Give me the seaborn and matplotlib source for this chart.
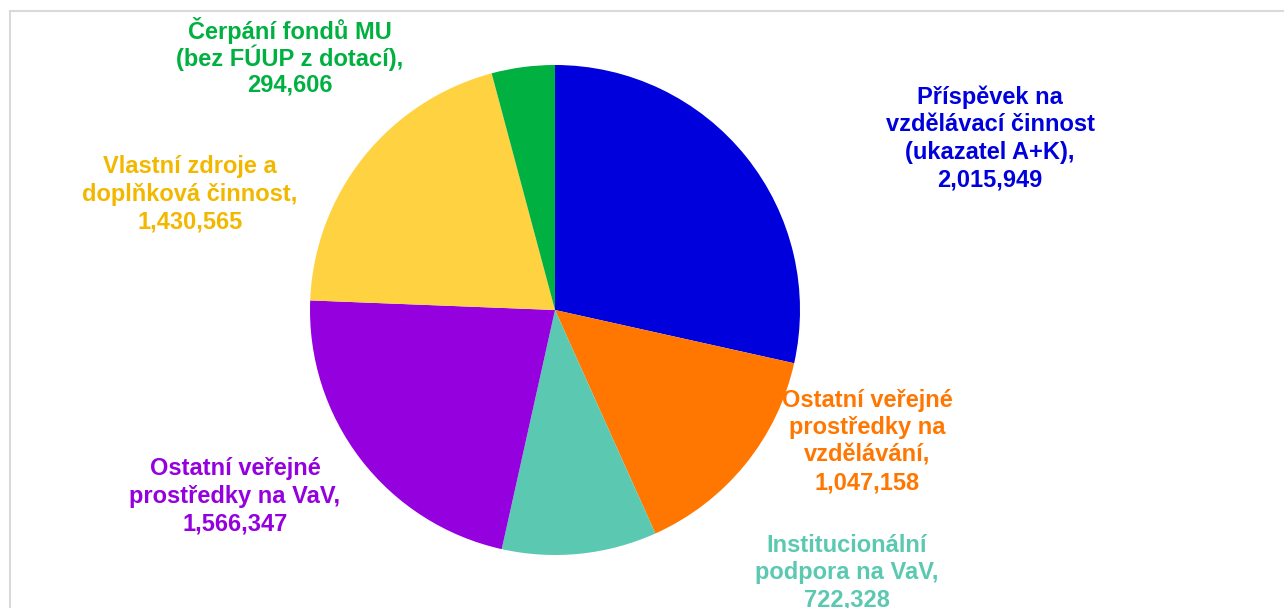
import matplotlib
matplotlib.use("Agg")
import matplotlib.pyplot as plt
import seaborn as sns
from matplotlib.patches import Rectangle

categories = [
    "Příspěvek na\nvzdělávací činnost\n(ukazatel A+K)",
    "Ostatní veřejné\nprostředky na\nvzdělávání",
    "Institucionální\npodpora na VaV",
    "Ostatní veřejné\nprostředky na VaV",
    "Vlastní zdroje a\ndoplňková činnost",
    "Čerpání fondů MU\n(bez FÚUP z dotací)",
]
values = [2015949, 1047158, 722328, 1566347, 1430565, 294606]
slice_colors = ["#0000DD", "#FF7700", "#5BC9B1", "#9400DE", "#FFD242", "#00B040"]
label_colors = ["#0000DD", "#FF7700", "#5BC9B1", "#9400DE", "#F2B800", "#00B040"]
# label centre positions in pixel coords (x, y of first line from top)
label_pos = [(990, 97), (867, 400), (847, 545), (235, 469), (190, 167), (290, 30)]

sns.set_theme(style="white")
plt.rcParams["font.family"] = ["Liberation Sans", "DejaVu Sans"]

W, H = 1284, 608
fig = plt.figure(figsize=(W / 100, H / 100), dpi=100)
ax = fig.add_axes([0, 0, 1, 1])

# frame
ax.add_patch(Rectangle((9.5, -50), W + 100, H - 10.5 + 50, fill=False,
                       edgecolor="#D9D9D9", linewidth=1.5, clip_on=False))

ax.pie(values, colors=slice_colors, startangle=90, counterclock=False,
       center=(555, H - 310), radius=245, frame=True,
       wedgeprops=dict(linewidth=0))
ax.set_xlim(0, W)
ax.set_ylim(0, H)
ax.set_aspect("equal")
ax.axis("off")

line_h = 27.6
for cat, val, col, (x, y) in zip(categories, values, label_colors, label_pos):
    text = cat + ",\n" + f"{val:,}"
    lines = text.split("\n")
    for i, ln in enumerate(lines):
        ax.text(x, H - (y + i * line_h), ln, ha="center", va="center",
                fontsize=17, fontweight="bold", color=col)

fig.savefig("out.png", dpi=100)
